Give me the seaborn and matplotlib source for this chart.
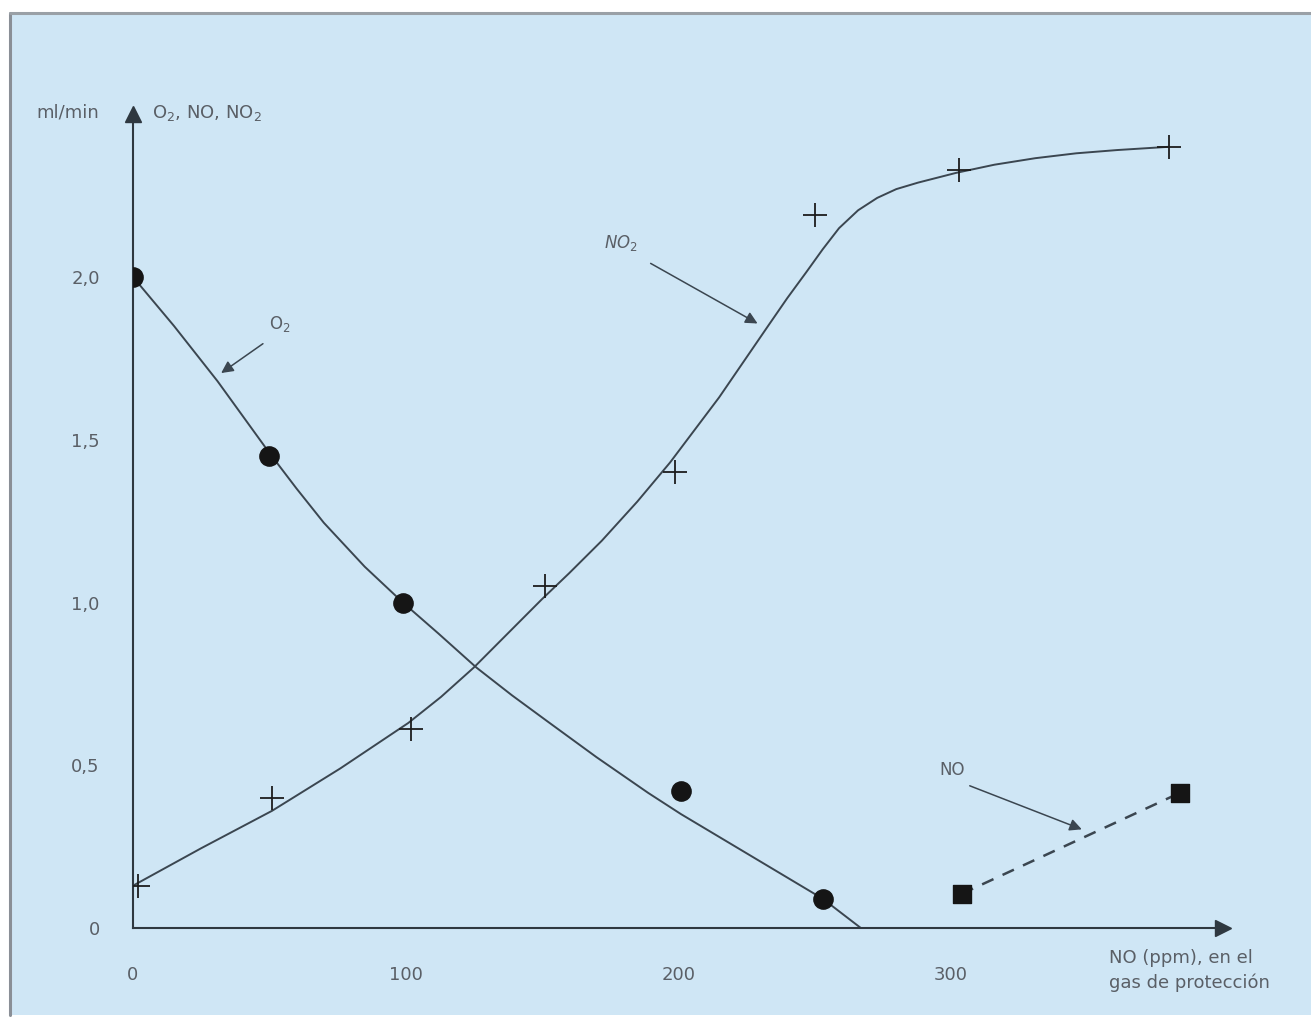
import numpy as np
import pandas as pd
import matplotlib
matplotlib.use("Agg")
import matplotlib.pyplot as plt
from matplotlib.patches import Rectangle
from matplotlib.lines import Line2D
import seaborn as sns

# --- datos ---
o2_x = [0, 50, 99, 201, 253]
o2_y = [2.0, 1.45, 1.0, 0.42, 0.09]

no2_x = [2, 51, 102, 151, 199, 250, 303, 380]
no2_y = [0.13, 0.40, 0.61, 1.05, 1.40, 2.19, 2.33, 2.40]

no_x = [304, 384]
no_y = [0.105, 0.415]

# curvas trazadas a mano en el original (leidas punto a punto)
o2_curve_x = [0, 15, 31, 50, 60, 70, 85, 99, 112, 126, 139, 152, 170, 189, 201,
              213, 225, 239, 253, 267]
o2_curve_y = [2.0, 1.85, 1.68, 1.46, 1.35, 1.245, 1.11, 1.0, 0.905, 0.80, 0.715, 0.635,
              0.525, 0.415, 0.35, 0.29, 0.23, 0.16, 0.09, 0.0]

no2_curve_x = [0, 25, 51, 76, 101, 113, 125, 150, 160, 172, 185, 197, 206, 215, 224, 233,
               240, 247, 253, 259, 266, 273, 280, 288, 295, 302, 316, 331, 346, 361, 380]
no2_curve_y = [0.13, 0.245, 0.36, 0.49, 0.63, 0.71, 0.80, 1.01, 1.09, 1.19, 1.31, 1.43,
               1.53, 1.63, 1.74, 1.85, 1.935, 2.015, 2.085, 2.15, 2.205, 2.243, 2.27,
               2.29, 2.305, 2.32, 2.345, 2.365, 2.38, 2.39, 2.40]

x_ticks_major = [0, 100, 200, 300]
x_ticks_minor = [50, 150, 250, 350]
y_ticks = [0, 0.5, 1.0, 1.5, 2.0]
y_tick_labels = ["0", "0,5", "1,0", "1,5", "2,0"]

line_col = "#3b4650"
text_col = "#5a5f66"
bg_col = "#cfe6f5"

sns.set_style("white")
plt.rcParams["font.family"] = ["DejaVu Sans"]

W, H = 1311, 1018
fig = plt.figure(figsize=(W / 100, H / 100), dpi=100)
fig.patch.set_facecolor("white")
fig.patches.append(Rectangle((10 / W, 3 / H), 1301 / W, 1002 / H, transform=fig.transFigure,
                             facecolor=bg_col, edgecolor="none", zorder=-10))
fig.add_artist(Line2D([10 / W, 10 / W], [3 / H, 1005 / H], color="#8a8f96", lw=2.2, zorder=-9))
fig.add_artist(Line2D([10 / W, 1.0], [1005 / H, 1005 / H], color="#9aa0a6", lw=2.2, zorder=-9))

ax = fig.add_axes([133 / W, 90 / H, 400 * 2.726 / W, 2.5 * 325.5 / H])
ax.set_facecolor("none")

# curvas
sns.lineplot(x=o2_curve_x, y=o2_curve_y, ax=ax, color=line_col, lw=1.4, sort=False)
sns.lineplot(x=no2_curve_x, y=no2_curve_y, ax=ax, color=line_col, lw=1.4, sort=False)
sns.lineplot(x=no_x, y=no_y, ax=ax, color=line_col, lw=1.8, linestyle=(0, (5, 4)))

# puntos medidos
sns.scatterplot(x=o2_x, y=o2_y, ax=ax, marker="o", s=190, color="#151515",
                edgecolor="#151515", zorder=5)
sns.scatterplot(x=no2_x, y=no2_y, ax=ax, marker="+", s=300, color="#1d1d1d",
                linewidth=1.3, zorder=5)
sns.scatterplot(x=no_x, y=no_y, ax=ax, marker="s", s=150, color="#151515",
                edgecolor="#151515", zorder=5)

ax.set_xlim(0, 400)
ax.set_ylim(0, 2.5)
sns.despine(ax=ax)
for sp in ["left", "bottom"]:
    ax.spines[sp].set_color("#2f3840")
    ax.spines[sp].set_linewidth(1.5)

# flechas de los ejes
ax.plot(400, 0, marker=">", ms=11, color="#2f3840", clip_on=False)
ax.plot(0, 2.5, marker="^", ms=11, color="#2f3840", clip_on=False)

ax.set_xticks(x_ticks_major)
ax.set_xticklabels([str(v) for v in x_ticks_major])
ax.set_xticks(x_ticks_minor, minor=True)
ax.set_yticks(y_ticks)
ax.set_yticklabels(y_tick_labels)
ax.tick_params(axis="x", which="both", direction="out", length=14, width=1.2,
               color="#2f3840", pad=13, labelsize=13, labelcolor=text_col)
ax.tick_params(axis="y", direction="out", length=14, width=1.2, color="#2f3840",
               pad=10, labelsize=13, labelcolor=text_col)
ax.set_xlabel("")
ax.set_ylabel("")

# textos
ax.text(-24, 2.505, "ml/min", ha="center", va="center", fontsize=13, color=text_col)
ax.text(7, 2.505, "O$_2$, NO, NO$_2$", ha="left", va="center", fontsize=13, color=text_col)
ax.text(358, -0.065, "NO (ppm), en el\ngas de protección", ha="left", va="top",
        fontsize=13, color=text_col, linespacing=1.45)

arrow = dict(arrowstyle="-|>", color=line_col, lw=1.1, mutation_scale=18)
ax.annotate("", xy=(31.5, 1.70), xytext=(48.5, 1.80), arrowprops=arrow)
ax.text(54, 1.855, "O$_2$", ha="center", va="center", fontsize=12, color=text_col)

ax.annotate("", xy=(230, 1.853), xytext=(189, 2.046), arrowprops=arrow)
ax.text(179, 2.105, "NO$_2$", ha="center", va="center", fontsize=12, color=text_col,
        style="italic")

ax.annotate("", xy=(349, 0.30), xytext=(306, 0.44), arrowprops=arrow)
ax.text(300.5, 0.485, "NO", ha="center", va="center", fontsize=12, color=text_col)

fig.savefig("out.png", dpi=100, facecolor=fig.get_facecolor())
